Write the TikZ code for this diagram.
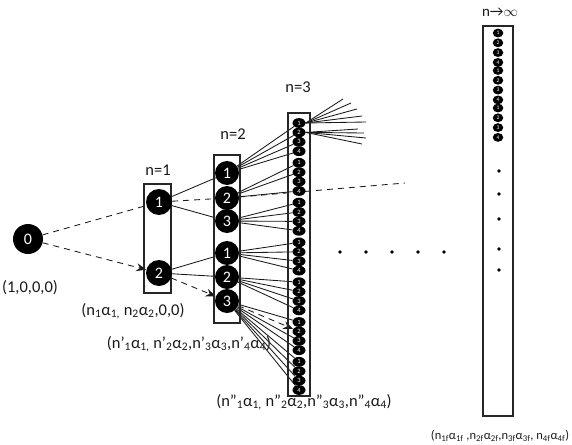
\documentclass[tikz,border=0pt]{standalone}
\usepackage{fontspec}
\setmainfont{Carlito}
\usetikzlibrary{arrows.meta,shapes.geometric,backgrounds}
\begin{document}
\begin{tikzpicture}[x=1pt,y=-1pt,
  big/.style={circle,fill=black,text=white,inner sep=0pt,minimum size=#1,font=\fontsize{16}{16}\selectfont},
  sm/.style={ellipse,fill=black,text=white,inner sep=0pt,minimum width=13pt,minimum height=9.8pt,font=\fontsize{6.5}{6.5}\selectfont},
  smi/.style={ellipse,fill=black,text=white,inner sep=0pt,minimum width=10.5pt,minimum height=8.8pt,font=\fontsize{5.5}{5.5}\selectfont},
  box/.style={draw=black!85,line width=1.2pt},
  ln/.style={draw=black!90,line width=0.85pt},
  dsh/.style={ln,dash pattern=on 6pt off 5pt},
  arr/.style={-{Stealth[length=10pt,width=8pt,inset=3.5pt]}},
  lbl/.style={font=\fontsize{16.5}{16.5}\selectfont,text=black!90,inner sep=0pt},
  sml/.style={font=\fontsize{12.5}{12.5}\selectfont,text=black!90,inner sep=0pt},
  dot/.style={circle,fill=black,inner sep=0pt,minimum size=3.6pt}]
\useasboundingbox (0,0) rectangle (572,444);
% boxes
\draw[box] (144,184) rectangle (171,293);
\draw[box] (214,155) rectangle (240,323);
\draw[box] (288,113) rectangle (310,396);
\draw[box] (483,26) rectangle (513,416);
% labels
\node[lbl] (t1) at (158,170) {n=1};
\node[lbl] (t2) at (233,134) {n=2};
\node[lbl] (t3) at (298,87) {n=3};
\node[lbl,font=\fontsize{15}{15}\selectfont] (t4) at (500,12) {n\textrightarrow$\infty$};
\node[lbl] (l0) at (30,288) {(1,0,0,0)};
\node[lbl] (l1) at (133,311) {(n\textsubscript{1}α\textsubscript{1,} n\textsubscript{2}α\textsubscript{2},0,0)};
\node[lbl] (l2) at (189,344) {(n'\textsubscript{1}α\textsubscript{1,} n'\textsubscript{2}α\textsubscript{2},n'\textsubscript{3}α\textsubscript{3},n'\textsubscript{4}α\textsubscript{4})};
\node[lbl] (l3) at (304,402) {(n''\textsubscript{1}α\textsubscript{1,} n''\textsubscript{2}α\textsubscript{2},n''\textsubscript{3}α\textsubscript{3},n''\textsubscript{4}α\textsubscript{4})};
\node[sml] (l4) at (500,436) {(n\textsubscript{1f}α\textsubscript{1f} ,n\textsubscript{2f}α\textsubscript{2f},n\textsubscript{3f}α\textsubscript{3f}, n\textsubscript{4f}α\textsubscript{4f})};
% main nodes
\node[big=30pt] (z) at (28,239) {0};
\node[big=26pt] (a1) at (159,202) {1};
\node[big=26pt] (a2) at (159,273) {2};
\node[big=24pt] (m1) at (227,173) {1};
\node[big=24pt] (m2) at (227,198) {2};
\node[big=24pt] (m3) at (227,221) {3};
\node[big=24pt] (m4) at (227,253) {1};
\node[big=24pt] (m5) at (227,277) {2};
\node[big=24pt] (m6) at (227,301) {3};
% n=3 column
\foreach \g in {1,...,7}{\foreach \i in {1,...,4}{
  \pgfmathsetmacro\yy{123+(\g-1)*39.8+(\i-1)*9.4}
  \node[sm] (c\g\i) at (299,\yy) {\i};}}
% infinity column
\foreach \g in {1,2,3}{\foreach \i in {1,...,4}{
  \pgfmathsetmacro\yy{33+(\g-1)*37.5+(\i-1)*9.8}
  \node[smi] (d\g\i) at (498,\yy) {\i};}}
% dots
\foreach \x [count=\k] in {340,366,392,418,444}{\node[dot] (h\k) at (\x,252) {};}
\foreach \y [count=\k] in {171,194,219,249,270}{\node[dot] (v\k) at (499,\y) {};}
\coordinate (far) at (405,183);
\foreach \k/\x/\y in {1/343/99,2/351/103,3/357/109,4/362/116,5/366/122}{\coordinate (f\k) at (\x,\y);}
\foreach \k/\x/\y in {1/358/129,2/364/133,3/366/138,4/362/144}{\coordinate (g\k) at (\x,\y);}
\begin{scope}[on background layer]
\draw[dsh] (z) -- (a1);
\draw[dsh,arr] (z) -- (a2);
\draw[ln] (a1) -- (m1);
\draw[dsh] (a1) -- (m2);
\draw[ln] (a1) -- (m3);
\draw[ln] (a2) -- (m4);
\draw[ln] (a2) -- (m5);
\draw[dsh,arr] (a2) -- (m6);
\foreach \i in {1,...,4}{
  \draw[ln] (m1) -- (c1\i);
  \draw[ln] (m3) -- (c3\i);
  \draw[ln] (m4) -- (c4\i);
  \draw[ln] (m5) -- (c5\i);
  \draw[ln] (m6) -- (c7\i);}
\foreach \i in {1,2,4}{\draw[ln] (m2) -- (c2\i);}
\draw[dsh] (m2) -- (far);
\foreach \i in {1,3,4}{\draw[ln] (m6) -- (c6\i);}
\draw[dsh,arr] (m6) -- (c62);
\foreach \k in {1,...,5}{\draw[ln] (c11.east) -- (f\k);}
\foreach \k in {1,...,4}{\draw[ln] (c12.east) -- (g\k);}
\end{scope}
\end{tikzpicture}
\end{document}
